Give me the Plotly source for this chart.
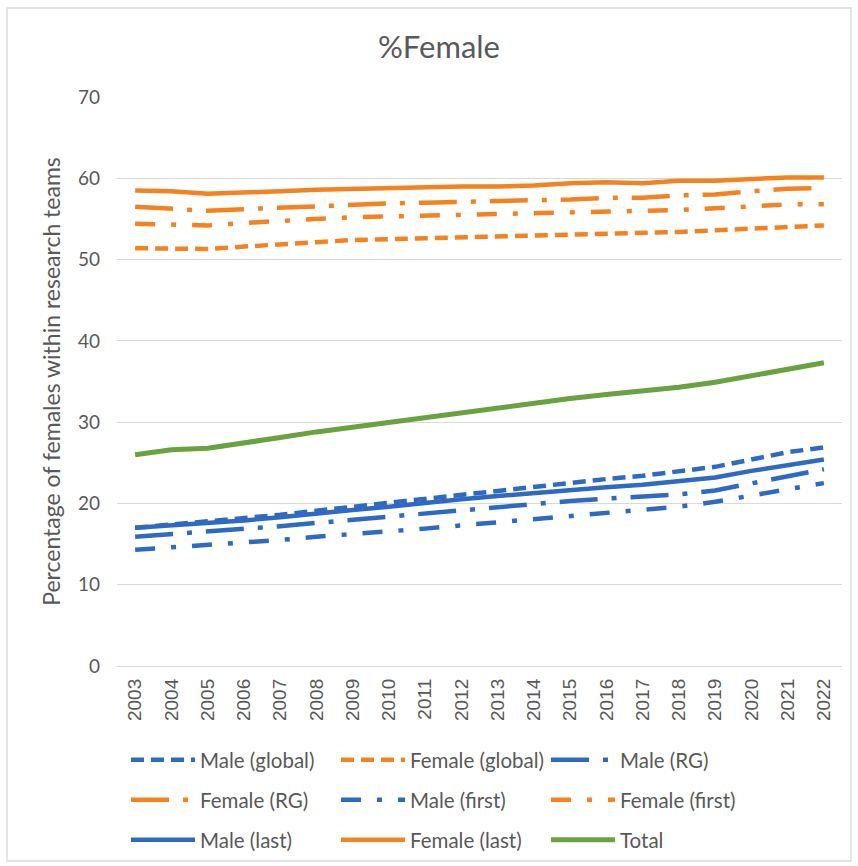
import plotly.graph_objects as go

years = [str(y) for y in range(2003, 2023)]

male_global = [17.0, 17.4, 17.7, 18.1, 18.6, 19.1, 19.6, 20.1, 20.6, 21.1, 21.6, 22.1, 22.6, 23.0, 23.4, 23.9, 24.5, 25.4, 26.3, 26.9]
female_global = [51.4, 51.4, 51.3, 51.6, 51.9, 52.2, 52.4, 52.5, 52.6, 52.7, 52.8, 52.9, 53.0, 53.1, 53.2, 53.4, 53.6, 53.8, 54.0, 54.2]
male_rg = [15.9, 16.2, 16.5, 16.8, 17.2, 17.6, 18.0, 18.3, 18.7, 19.1, 19.5, 19.9, 20.3, 20.6, 20.8, 21.1, 21.6, 22.5, 23.4, 24.2]
female_rg = [56.5, 56.3, 56.0, 56.2, 56.4, 56.6, 56.8, 56.9, 57.0, 57.1, 57.1, 57.2, 57.4, 57.6, 57.6, 57.9, 58.0, 58.4, 58.7, 58.8]
male_first = [14.3, 14.6, 14.8, 15.1, 15.5, 15.9, 16.2, 16.5, 16.9, 17.3, 17.7, 18.1, 18.5, 18.8, 19.2, 19.6, 20.2, 21.0, 21.8, 22.5]
female_first = [54.4, 54.3, 54.2, 54.5, 54.8, 55.0, 55.2, 55.3, 55.4, 55.4, 55.5, 55.6, 55.7, 55.8, 55.9, 56.1, 56.3, 56.5, 56.8, 56.8]
male_last = [17.0, 17.3, 17.5, 17.9, 18.3, 18.8, 19.2, 19.6, 20.1, 20.5, 20.9, 21.3, 21.7, 22.0, 22.3, 22.7, 23.2, 24.0, 24.7, 25.4]
female_last = [58.5, 58.4, 58.1, 58.2, 58.4, 58.6, 58.7, 58.9, 59.0, 59.0, 59.0, 59.1, 59.4, 59.5, 59.4, 59.7, 59.7, 59.9, 60.1, 60.1]
total = [26.0, 26.6, 26.8, 27.4, 28.1, 28.8, 29.4, 29.9, 30.5, 31.1, 31.7, 32.3, 32.9, 33.4, 33.8, 34.3, 34.9, 35.7, 36.6, 37.3]

BLUE = "#2E6AC4"
ORANGE = "#F5821F"
GREEN = "#6AA23F"
TXT = "#595959"
FONT = "Lato"

D_GLOBAL = "13px,7px"
D_RG = "38px,14px,5px,14px"
D_FIRST = "20px,16px,5px,16px"

series = [
    ("Male (global)", male_global, BLUE, D_GLOBAL, "legend"),
    ("Female (global)", female_global, ORANGE, D_GLOBAL, "legend"),
    ("Male (RG)", male_rg, BLUE, D_RG, "legend"),
    ("Female (RG)", female_rg, ORANGE, D_RG, "legend2"),
    ("Male (first)", male_first, BLUE, D_FIRST, "legend2"),
    ("Female (first)", female_first, ORANGE, D_FIRST, "legend2"),
    ("Male (last)", male_last, BLUE, "solid", "legend3"),
    ("Female (last)", female_last, ORANGE, "solid", "legend3"),
    ("Total", total, GREEN, "solid", "legend3"),
]

fig = go.Figure()
for name, vals, col, dash, lg in series:
    fig.add_trace(go.Scatter(
        x=years, y=vals, name=name, mode="lines",
        line=dict(color=col, width=4.5 if name != "Total" else 5, dash=dash),
        legend=lg,
    ))

W, H = 858, 866
L, R, T, B = 117, 16, 97, 200
pw, ph = W - L - R, H - T - B

def px_x(x):
    return (x - L) / pw

def px_y(y):
    return (H - B - y) / ph

def cx(x):
    return x / W

def cy(y):
    return 1 - y / H

leg_common = dict(
    orientation="h", xanchor="left", yanchor="middle",
    xref="container", yref="container",
    font=dict(family=FONT, size=20.5, color=TXT),
    itemwidth=64, entrywidth=131, entrywidthmode="pixels",
    bgcolor="rgba(0,0,0,0)", traceorder="normal",
)

fig.update_layout(
    width=W, height=H,
    margin=dict(l=L, r=R, t=T, b=B, autoexpand=False),
    paper_bgcolor="white", plot_bgcolor="white",
    title=dict(text="%Female", x=cx(439), xref="container", xanchor="center",
               y=cy(47), yref="container", yanchor="middle",
               font=dict(family=FONT, size=31, color=TXT)),
    xaxis=dict(type="category", range=[-0.5, 19.5], tickangle=-90, showgrid=False, showline=False,
               zeroline=False, ticks="", automargin=False, ticklabelstandoff=8,
               tickfont=dict(family="Liberation Sans", size=19, color=TXT)),
    yaxis=dict(range=[0, 70], dtick=10, showgrid=True, gridcolor="#D9D9D9", gridwidth=1.3,
               zeroline=True, zerolinecolor="#D9D9D9", zerolinewidth=1.3,
               showline=False, ticks="", ticklabelstandoff=16, automargin=False,
               tickfont=dict(family=FONT, size=19, color=TXT),
               title=dict(text="Percentage of females within research teams",
                          font=dict(family=FONT, size=23, color=TXT), standoff=10)),
    legend=dict(x=cx(126), y=cy(760), **leg_common),
    legend2=dict(x=cx(126), y=cy(800), **leg_common),
    legend3=dict(x=cx(126), y=cy(840), **leg_common),
    shapes=[dict(type="rect", xref="paper", yref="paper",
                 x0=px_x(7), x1=px_x(851), y0=px_y(861), y1=px_y(8),
                 line=dict(color="#D9D9D9", width=1.3), layer="below")],
)

fig.write_html("out.html", config={"displayModeBar": False},
               post_script="document.body.style.margin='0px';")
